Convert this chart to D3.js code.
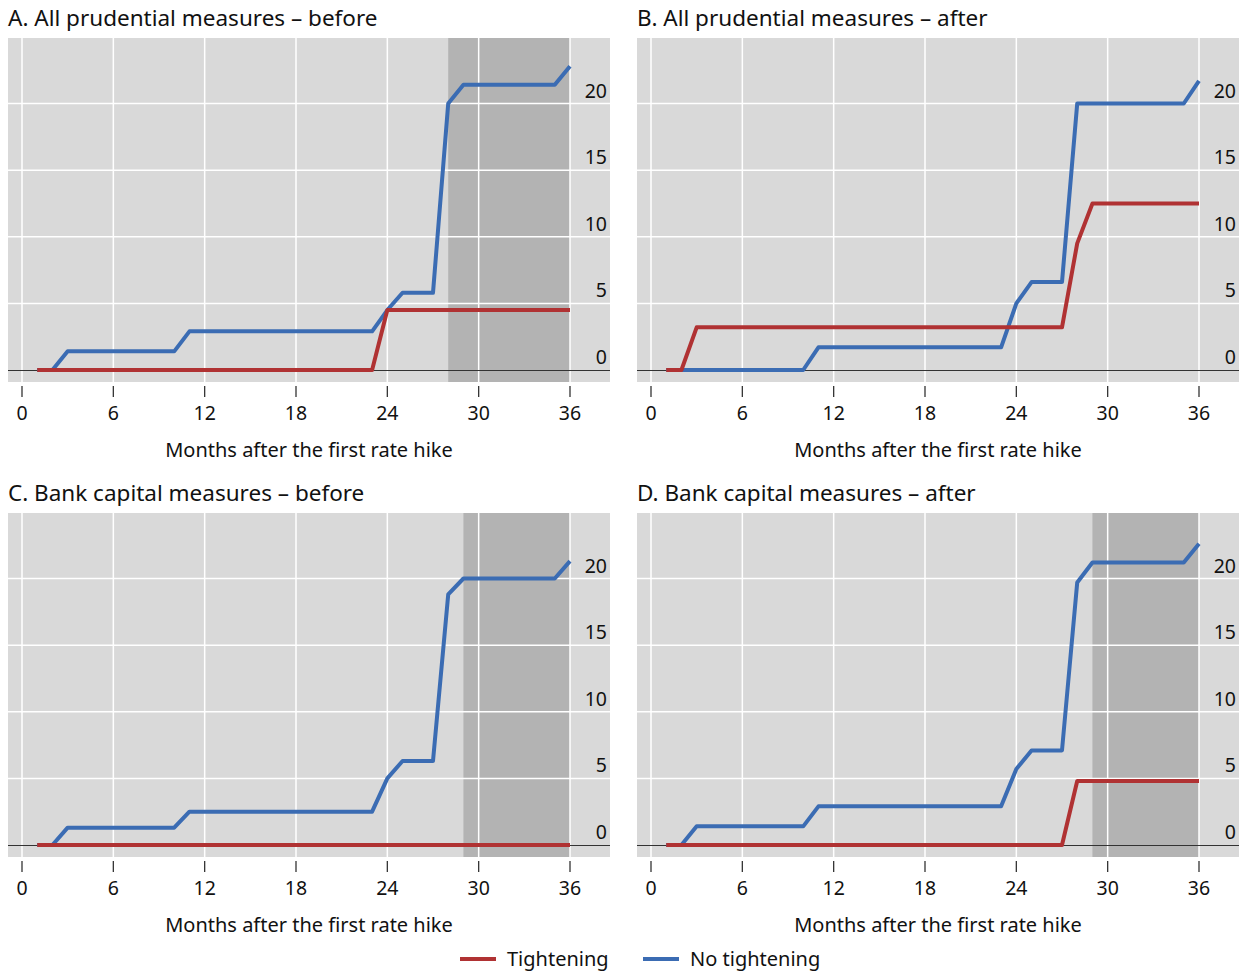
<!DOCTYPE html>
<html>
<head>
<meta charset="utf-8">
<script src="https://cdn.jsdelivr.net/npm/d3@7"></script>
<style>
  body { margin: 0; background: #fff; }
  svg text { font-family: "Noto Sans", "Open Sans", sans-serif; fill: #111; }
</style>
</head>
<body>
<svg id="chart" width="1247" height="972"></svg>
<script>
// months after first hike, one value per month
var months = d3.range(1, 37);
var xTicks = [0, 6, 12, 18, 24, 30, 36];
var yTicks = [0, 5, 10, 15, 20];

var titles = [
  'A. All prudential measures \u2013 before',
  'B. All prudential measures \u2013 after',
  'C. Bank capital measures \u2013 before',
  'D. Bank capital measures \u2013 after'
];

var tighteningA = [0,0,0,0,0,0,0,0,0,0,0,0,0,0,0,0,0,0,0,0,0,0,0,4.5,4.5,4.5,4.5,4.5,4.5,4.5,4.5,4.5,4.5,4.5,4.5,4.5];
var noTighteningA = [0,0,1.4,1.4,1.4,1.4,1.4,1.4,1.4,1.4,2.9,2.9,2.9,2.9,2.9,2.9,2.9,2.9,2.9,2.9,2.9,2.9,2.9,4.5,5.8,5.8,5.8,20,21.4,21.4,21.4,21.4,21.4,21.4,21.4,22.8];

var tighteningB = [0,0,3.2,3.2,3.2,3.2,3.2,3.2,3.2,3.2,3.2,3.2,3.2,3.2,3.2,3.2,3.2,3.2,3.2,3.2,3.2,3.2,3.2,3.2,3.2,3.2,3.2,9.5,12.5,12.5,12.5,12.5,12.5,12.5,12.5,12.5];
var noTighteningB = [0,0,0,0,0,0,0,0,0,0,1.7,1.7,1.7,1.7,1.7,1.7,1.7,1.7,1.7,1.7,1.7,1.7,1.7,5.0,6.6,6.6,6.6,20,20,20,20,20,20,20,20,21.7];

var tighteningC = [0,0,0,0,0,0,0,0,0,0,0,0,0,0,0,0,0,0,0,0,0,0,0,0,0,0,0,0,0,0,0,0,0,0,0,0];
var noTighteningC = [0,0,1.3,1.3,1.3,1.3,1.3,1.3,1.3,1.3,2.5,2.5,2.5,2.5,2.5,2.5,2.5,2.5,2.5,2.5,2.5,2.5,2.5,5.0,6.3,6.3,6.3,18.8,20,20,20,20,20,20,20,21.3];

var tighteningD = [0,0,0,0,0,0,0,0,0,0,0,0,0,0,0,0,0,0,0,0,0,0,0,0,0,0,0,4.8,4.8,4.8,4.8,4.8,4.8,4.8,4.8,4.8];
var noTighteningD = [0,0,1.4,1.4,1.4,1.4,1.4,1.4,1.4,1.4,2.9,2.9,2.9,2.9,2.9,2.9,2.9,2.9,2.9,2.9,2.9,2.9,2.9,5.7,7.1,7.1,7.1,19.7,21.2,21.2,21.2,21.2,21.2,21.2,21.2,22.6];

// shaded window [start, end] in months, null when absent
var shadeA = [28, 36];
var shadeB = null;
var shadeC = [29, 36];
var shadeD = [29, 36];

var legendLabels = ['Tightening', 'No tightening'];

var colors = { tight: '#b03233', noTight: '#3b6cb3' };

var panels = [
  { title: titles[0], tight: tighteningA, noTight: noTighteningA, shade: shadeA, x: 8, y: 38 },
  { title: titles[1], tight: tighteningB, noTight: noTighteningB, shade: shadeB, x: 637, y: 38 },
  { title: titles[2], tight: tighteningC, noTight: noTighteningC, shade: shadeC, x: 8, y: 513 },
  { title: titles[3], tight: tighteningD, noTight: noTighteningD, shade: shadeD, x: 637, y: 513 }
];

var plotW = 602, plotH = 344;

var x = d3.scaleLinear().domain([0, 36]).range([14, 562]);
var y = d3.scaleLinear().domain([0, 20]).range([332, 65.5]);

var svg = d3.select('#chart');

var line = d3.line()
  .x(function(d) { return x(d.m); })
  .y(function(d) { return y(d.v); });

panels.forEach(function(p) {
  var g = svg.append('g').attr('transform', 'translate(' + p.x + ',' + p.y + ')');

  g.append('text')
    .attr('x', 0)
    .attr('y', -12)
    .style('font-size', '22.5px')
    .text(p.title);

  g.append('rect')
    .attr('width', plotW)
    .attr('height', plotH)
    .attr('fill', '#d9d9d9');

  if (p.shade) {
    g.append('rect')
      .attr('x', x(p.shade[0]))
      .attr('y', 0)
      .attr('width', x(p.shade[1]) - x(p.shade[0]))
      .attr('height', plotH)
      .attr('fill', '#b3b3b3');
  }

  // gridlines
  g.selectAll('line.vgrid')
    .data(xTicks)
    .enter().append('line')
    .attr('class', 'vgrid')
    .attr('x1', function(d) { return x(d); })
    .attr('x2', function(d) { return x(d); })
    .attr('y1', 0)
    .attr('y2', plotH)
    .attr('stroke', '#fff')
    .attr('stroke-width', 1.5);

  g.selectAll('line.hgrid')
    .data(yTicks.slice(1))
    .enter().append('line')
    .attr('class', 'hgrid')
    .attr('x1', 0)
    .attr('x2', plotW)
    .attr('y1', function(d) { return y(d); })
    .attr('y2', function(d) { return y(d); })
    .attr('stroke', '#fff')
    .attr('stroke-width', 1.5);

  // zero line
  g.append('line')
    .attr('x1', 0)
    .attr('x2', plotW)
    .attr('y1', Math.round(y(0)) + 0.5)
    .attr('y2', Math.round(y(0)) + 0.5)
    .attr('stroke', '#333')
    .attr('stroke-width', 1);

  // x ticks below the plot
  g.selectAll('line.xtick')
    .data(xTicks)
    .enter().append('line')
    .attr('class', 'xtick')
    .attr('x1', function(d) { return x(d); })
    .attr('x2', function(d) { return x(d); })
    .attr('y1', plotH + 4)
    .attr('y2', plotH + 15)
    .attr('stroke', '#333')
    .attr('stroke-width', 1.3);

  g.selectAll('text.xlab')
    .data(xTicks)
    .enter().append('text')
    .attr('class', 'xlab')
    .attr('x', function(d) { return x(d); })
    .attr('y', plotH + 38)
    .attr('text-anchor', 'middle')
    .style('font-size', '19.5px')
    .text(function(d) { return d; });

  g.append('text')
    .attr('x', plotW / 2)
    .attr('y', plotH + 75)
    .attr('text-anchor', 'middle')
    .style('font-size', '20px')
    .text('Months after the first rate hike');

  // y labels sit above their gridlines, right edge
  g.selectAll('text.ylab')
    .data(yTicks)
    .enter().append('text')
    .attr('class', 'ylab')
    .attr('x', plotW - 3)
    .attr('y', function(d) { return y(d) - 6; })
    .attr('text-anchor', 'end')
    .style('font-size', '19.5px')
    .text(function(d) { return d; });

  var noTight = months.map(function(m, i) { return { m: m, v: p.noTight[i] }; });
  var tight = months.map(function(m, i) { return { m: m, v: p.tight[i] }; });

  g.append('path')
    .datum(noTight)
    .attr('d', line)
    .attr('fill', 'none')
    .attr('stroke', colors.noTight)
    .attr('stroke-width', 4)
    .attr('stroke-linejoin', 'round');

  g.append('path')
    .datum(tight)
    .attr('d', line)
    .attr('fill', 'none')
    .attr('stroke', colors.tight)
    .attr('stroke-width', 4)
    .attr('stroke-linejoin', 'round');
});

// legend
var legend = svg.append('g').attr('transform', 'translate(460,959)');
var legendItems = [
  { label: legendLabels[0], color: colors.tight, dx: 0 },
  { label: legendLabels[1], color: colors.noTight, dx: 183 }
];
legendItems.forEach(function(item) {
  legend.append('line')
    .attr('x1', item.dx)
    .attr('x2', item.dx + 36)
    .attr('y1', 0)
    .attr('y2', 0)
    .attr('stroke', item.color)
    .attr('stroke-width', 4);
  legend.append('text')
    .attr('x', item.dx + 47)
    .attr('y', 7)
    .style('font-size', '20px')
    .text(item.label);
});
</script>
</body>
</html>
